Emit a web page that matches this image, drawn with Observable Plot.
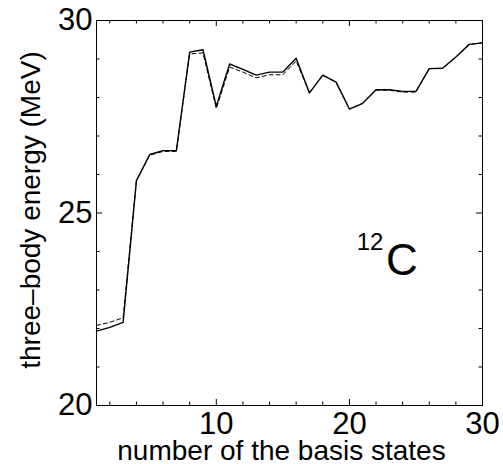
<!DOCTYPE html>
<html>
<head>
<meta charset="utf-8">
<script src="https://cdn.jsdelivr.net/npm/d3@7"></script>
<script src="https://cdn.jsdelivr.net/npm/@observablehq/plot@0.6"></script>
<style>
  html, body { margin: 0; padding: 0; background: #fff; }
</style>
</head>
<body>
<script>
// number of basis states
const basisStates = [1,2,3,4,5,6,7,8,9,10,11,12,13,14,15,16,17,18,19,20,21,22,23,24,25,26,27,28,29,30];
// three-body energy (MeV), solid curve
const energySolid = [21.93, 22.03, 22.16, 25.84, 26.52, 26.62, 26.62, 29.18, 29.24, 27.77,
                     28.87, 28.73, 28.58, 28.66, 28.66, 29.02, 28.12, 28.58, 28.40, 27.70,
                     27.85, 28.20, 28.20, 28.16, 28.16, 28.75, 28.76, 29.05, 29.38, 29.42];
// three-body energy (MeV), dashed curve
const energyDashed = [22.08, 22.16, 22.28, 25.84, 26.50, 26.60, 26.60, 29.13, 29.16, 27.71,
                      28.79, 28.66, 28.51, 28.59, 28.59, 28.95, 28.12, 28.58, 28.40, 27.70,
                      27.85, 28.19, 28.19, 28.14, 28.14, 28.75, 28.76, 29.05, 29.38, 29.42];
// tick labels
const xTickLabels = [10, 20, 30];
const yTickLabels = [20, 25, 30];
const xMajorTicks = [10, 20];
const xMinorTicks = [2,4,6,8,12,14,16,18,22,24,26,28];
const yMajorTicks = [25];
const yMinorTicks = [21,22,23,24,26,27,28,29];
const xDomain = [1, 30];
const yDomain = [20, 30];
// annotation (data units)
const isotopeMass = "12";
const isotopeSymbol = "C";
const massPos = {x: 20.55, y: 24.03};
const symbolPos = {x: 22.75, y: 23.38};

const W = 503, H = 464;
const mL = 96, mR = 21, mT = 20, mB = 59;
const plotW = W - mL - mR, plotH = H - mT - mB;
const majorLen = 6, minorLen = 3.5;

const solidRows = basisStates.map((n, i) => ({n, e: energySolid[i]}));
const dashedRows = basisStates.map((n, i) => ({n, e: energyDashed[i]}));

const chart = Plot.plot({
  width: W, height: H,
  marginLeft: mL, marginRight: mR, marginTop: mT, marginBottom: mB,
  x: {domain: xDomain, axis: null},
  y: {domain: yDomain, axis: null},
  style: {fontFamily: "'Liberation Sans', Arial, Helvetica, sans-serif", fontSize: "31px", color: "black", background: "white", overflow: "visible"},
  marks: [
    Plot.frame({stroke: "black", strokeWidth: 1}),
    // inward ticks, bottom & top
    Plot.tickX(xMajorTicks, {x: d => d, insetTop: plotH - majorLen, stroke: "black"}),
    Plot.tickX(xMajorTicks, {x: d => d, insetBottom: plotH - majorLen, stroke: "black"}),
    Plot.tickX(xMinorTicks, {x: d => d, insetTop: plotH - minorLen, stroke: "black"}),
    Plot.tickX(xMinorTicks, {x: d => d, insetBottom: plotH - minorLen, stroke: "black"}),
    // inward ticks, left & right
    Plot.tickY(yMajorTicks, {y: d => d, insetRight: plotW - majorLen, stroke: "black"}),
    Plot.tickY(yMajorTicks, {y: d => d, insetLeft: plotW - majorLen, stroke: "black"}),
    Plot.tickY(yMinorTicks, {y: d => d, insetRight: plotW - minorLen, stroke: "black"}),
    Plot.tickY(yMinorTicks, {y: d => d, insetLeft: plotW - minorLen, stroke: "black"}),
    Plot.axisX({ticks: xTickLabels, tickSize: 0, tickPadding: 6, label: null}),
    Plot.axisY({ticks: yTickLabels, tickSize: 0, tickPadding: 4, label: null}),
    Plot.line(dashedRows, {x: "n", y: "e", stroke: "black", strokeWidth: 1, strokeDasharray: "4,3"}),
    Plot.line(solidRows, {x: "n", y: "e", stroke: "black", strokeWidth: 1.4}),
    Plot.text([isotopeMass], {x: () => massPos.x, y: () => massPos.y, text: d => d, textAnchor: "start", lineAnchor: "bottom", fontSize: 24, fill: "black"}),
    Plot.text([isotopeSymbol], {x: () => symbolPos.x, y: () => symbolPos.y, text: d => d, textAnchor: "start", lineAnchor: "bottom", fontSize: 44, fill: "black"}),
    Plot.text(["number of the basis states"], {frameAnchor: "bottom", dx: -8, dy: 54, textAnchor: "middle", lineAnchor: "bottom", fontSize: 28, fill: "black"}),
    Plot.text(["three–body energy (MeV)"], {frameAnchor: "left", dx: -57, dy: -3, rotate: -90, textAnchor: "middle", lineAnchor: "bottom", fontSize: 28, fill: "black"})
  ]
});
document.body.appendChild(chart);
</script>
</body>
</html>
